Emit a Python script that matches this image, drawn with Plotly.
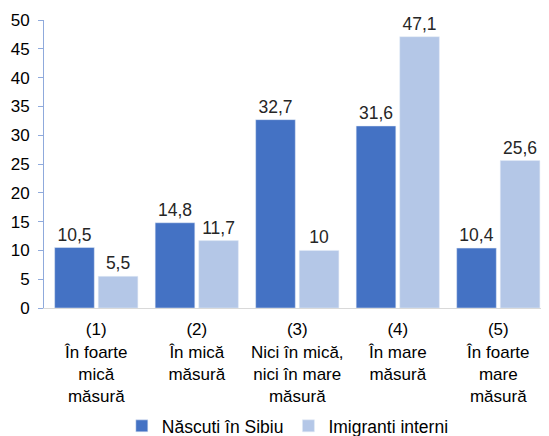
import plotly.graph_objects as go

categories = [
    "(1)<br>În foarte<br>mică<br>măsură",
    "(2)<br>În mică<br>măsură",
    "(3)<br>Nici în mică,<br>nici în mare<br>măsură",
    "(4)<br>În mare<br>măsură",
    "(5)<br>În foarte<br>mare<br>măsură",
]
nascuti = [10.5, 14.8, 32.7, 31.6, 10.4]
imigranti = [5.5, 11.7, 10, 47.1, 25.6]
y_ticks = [0, 5, 10, 15, 20, 25, 30, 35, 40, 45, 50]


def fmt(v):
    return ("%g" % v).replace(".", ",")


fig = go.Figure()
fig.add_trace(go.Bar(
    x=categories, y=nascuti, name="Născuti în Sibiu",
    marker_color="#4472C4",
    text=[fmt(v) for v in nascuti], textposition="outside",
    textfont=dict(size=17.5, color="#262626"), cliponaxis=False,
))
fig.add_trace(go.Bar(
    x=categories, y=imigranti, name="Imigranti interni",
    marker_color="#B4C7E7",
    text=[fmt(v) for v in imigranti], textposition="outside",
    textfont=dict(size=17.5, color="#262626"), cliponaxis=False,
))

# page body has an 8px margin, so the figure is sized to fit what remains
fig.update_layout(
    width=533, height=428,
    margin=dict(l=36, r=0, t=12, b=128, autoexpand=False),
    paper_bgcolor="white", plot_bgcolor="white",
    font=dict(family="Liberation Sans, Arial", size=17, color="#000000"),
    barmode="group", bargap=0.133, bargroupgap=0.09,
    showlegend=True,
    legend=dict(orientation="h", xref="container", x=0.525, xanchor="center",
                yref="container", y=0.0234, yanchor="middle",
                font=dict(size=17.5), itemwidth=30, traceorder="normal"),
    uniformtext=dict(mode=False),
)
fig.update_xaxes(
    range=[-0.52, 4.425],
    showline=True, linecolor="#D9D9D9", linewidth=1, automargin=False,
    tickfont=dict(size=17, color="#000000"), ticks="", showgrid=False,
    ticklabelstandoff=6,
)
fig.update_yaxes(
    range=[0, 50], tickvals=y_ticks, showgrid=False, zeroline=False,
    showline=True, linecolor="#8FAADC", linewidth=1, automargin=False,
    ticks="outside", ticklen=5, tickcolor="#8FAADC",
    tickfont=dict(size=17, color="#000000"), ticklabelstandoff=5,
)

fig.write_html("out.html")
